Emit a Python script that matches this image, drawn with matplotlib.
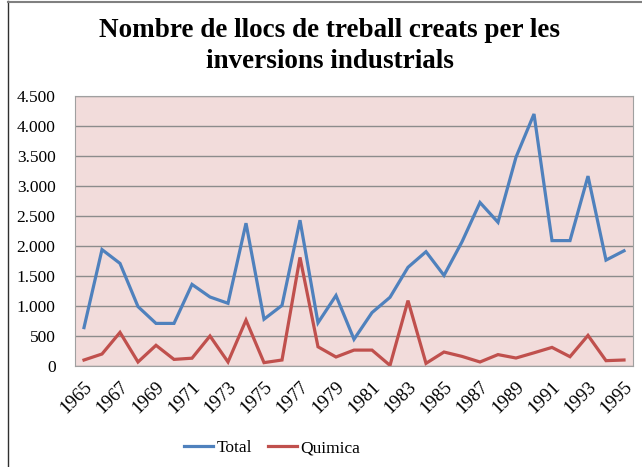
import matplotlib
matplotlib.use("Agg")
import matplotlib.pyplot as plt
from matplotlib.lines import Line2D
from matplotlib.ticker import FuncFormatter
import numpy as np

years = list(range(1965, 1996))
total = [640, 1940, 1710, 990, 710, 710, 1360, 1150, 1045, 2380, 780, 1010,
         2430, 720, 1175, 445, 890, 1145, 1645, 1905, 1510, 2070, 2725, 2395,
         3480, 4200, 2090, 2090, 3165, 1765, 1920]
quimica = [100, 200, 560, 67, 345, 110, 130, 500, 67, 765, 56, 100,
           1810, 320, 150, 265, 265, 10, 1090, 44, 233, 160, 67, 190,
           133, 220, 310, 155, 510, 89, 100]

serif = ['Liberation Serif', 'DejaVu Serif']
W, H = 642, 467

fig = plt.figure(figsize=(W / 100, H / 100), dpi=100)
ax = fig.add_axes([75 / W, (H - 366) / H, (633 - 75) / W, (366 - 96) / H])
ax.set_facecolor('#F2DCDB')

x = np.arange(len(years))
ax.plot(x, total, color='#4F81BD', lw=2.3, label='Total', solid_joinstyle='miter')
ax.plot(x, quimica, color='#C0504D', lw=2.3, label='Quimica', solid_joinstyle='miter')

ax.set_xlim(-0.5, len(years) - 0.5)
ax.set_ylim(0, 4500)
ax.set_yticks(np.arange(0, 4501, 500))
ax.yaxis.set_major_formatter(FuncFormatter(lambda v, p: '{:,.0f}'.format(v).replace(',', '.')))
ax.grid(axis='y', color='#8C8C8C', lw=1.0)
ax.set_axisbelow(True)
ax.set_xticks(x[::2])
ax.set_xticklabels([str(y) for y in years[::2]], rotation=45, ha='right',
                   rotation_mode='anchor', family=serif, fontsize=13.5)
for lab in ax.get_yticklabels():
    lab.set_family(serif)
    lab.set_fontsize(12.5)
ax.tick_params(axis='x', length=0, pad=9)
ax.tick_params(axis='y', length=0, pad=14)
for s in ax.spines.values():
    s.set_color('#A0A0A0')

fig.text(330 / W, 1 - 46 / H, 'Nombre de llocs de treball creats per les\ninversions industrials',
         ha='center', va='center', fontsize=19.5, fontweight='bold', family=serif,
         linespacing=1.28)

leg = fig.legend(loc='center', bbox_to_anchor=(272 / W, 1 - 448 / H), ncol=2, frameon=False,
                 prop={'family': serif, 'size': 12.5}, handlelength=1.7, handletextpad=0.2,
                 columnspacing=0.9)

fig.add_artist(Line2D([8 / W, 8 / W], [0, 1 - 1 / H], color='#303030', lw=1.0,
                      transform=fig.transFigure))
fig.add_artist(Line2D([8 / W, 1], [1 - 1.5 / H, 1 - 1.5 / H], color='#808080', lw=1.5,
                      transform=fig.transFigure))

fig.savefig('out.png', dpi=100)
